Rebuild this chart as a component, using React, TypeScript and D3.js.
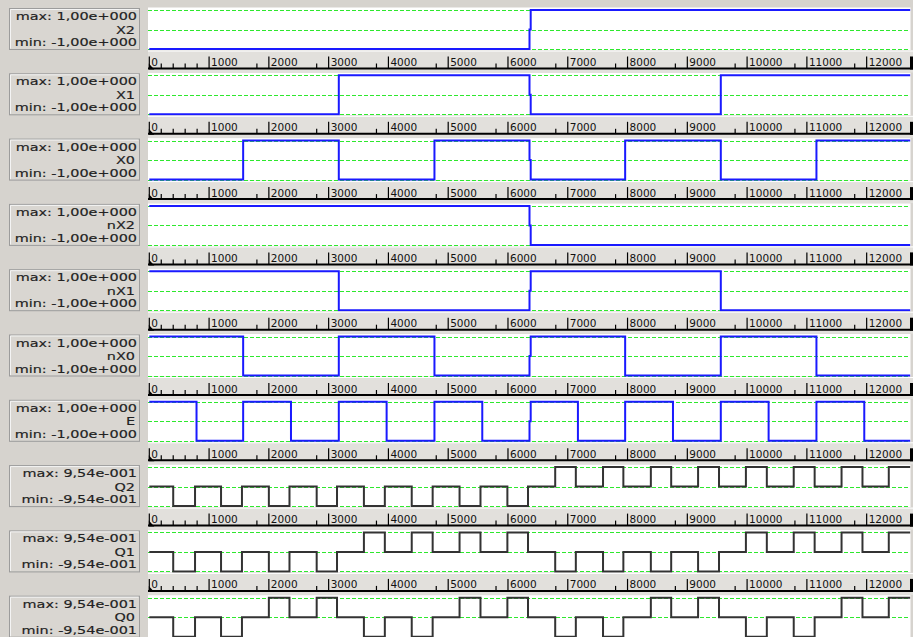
import React from "react";
import * as d3 from "d3";

const W = 913;
const H = 637;
const T_END = 12730;

const SIGNAL_NAMES = ["X2", "X1", "X0", "nX2", "nX1", "nX0", "E", "Q2", "Q1", "Q0"];
const MAX_LABELS = ["max: 1,00e+000", "max: 1,00e+000", "max: 1,00e+000", "max: 1,00e+000", "max: 1,00e+000", "max: 1,00e+000", "max: 1,00e+000", "max: 9,54e-001", "max: 9,54e-001", "max: 9,54e-001"];
const MIN_LABELS = ["min: -1,00e+000", "min: -1,00e+000", "min: -1,00e+000", "min: -1,00e+000", "min: -1,00e+000", "min: -1,00e+000", "min: -1,00e+000", "min: -9,54e-001", "min: -9,54e-001", "min: -9,54e-001"];
const RANGE_MAX = [1, 1, 1, 1, 1, 1, 1, 0.954, 0.954, 0.954];

const AXIS_TICKS = [0, 1000, 2000, 3000, 4000, 5000, 6000, 7000, 8000, 9000, 10000, 11000, 12000];
const MINOR_TICKS = [200, 400, 600, 800, 1800, 2800, 3800, 4800, 5800, 6800, 7800, 8800, 9800, 10800, 11800, 12800];

// step signals: [time, value] (value holds until next time)
const X2_STEPS: [number, number][] = [[0, -1], [6360, 0], [6380, 1]];
const X1_STEPS: [number, number][] = [[0, -1], [3170, 1], [6360, 0], [6380, -1], [9560, 1]];
const X0_STEPS: [number, number][] = [[0, -1], [1570, 1], [3170, -1], [4770, 1], [6360, 0], [6380, -1], [7960, 1], [9560, -1], [11160, 1]];
const NX2_STEPS: [number, number][] = [[0, 1], [6360, 0], [6380, -1]];
const NX1_STEPS: [number, number][] = [[0, 1], [3170, -1], [6360, 0], [6380, 1], [9560, -1]];
const NX0_STEPS: [number, number][] = [[0, 1], [1570, -1], [3170, 1], [4770, -1], [6360, 0], [6380, 1], [7960, -1], [9560, 1], [11160, -1]];
const E_STEPS: [number, number][] = [[0, 1], [790, -1], [1570, 1], [2370, -1], [3170, 1], [3970, -1], [4770, 1], [5570, -1], [6360, 0], [6380, 1], [7170, -1], [7960, 1], [8760, -1], [9560, 1], [10360, -1], [11160, 1], [11960, -1]];

// Q outputs: pulse windows and their levels
const Q_WIN_START = [400, 1200, 2000, 2800, 3590, 4390, 5190, 5990, 6790, 7590, 8390, 9180, 9980, 10780, 11580, 12370];
const Q_WIN_END = [765, 1550, 2345, 3140, 3940, 4740, 5540, 6335, 7135, 7930, 8730, 9530, 10330, 11130, 11930, 12730];
const Q2_LEVELS = [-0.954, -0.954, -0.954, -0.954, -0.954, -0.954, -0.954, -0.954, 0.954, 0.954, 0.954, 0.954, 0.954, 0.954, 0.954, 0.954];
const Q1_LEVELS = [-0.954, -0.954, -0.954, -0.954, 0.954, 0.954, 0.954, 0.954, -0.954, -0.954, -0.954, -0.954, 0.954, 0.954, 0.954, 0.954];
const Q0_LEVELS = [-0.954, -0.954, 0.954, 0.954, -0.954, -0.954, 0.954, 0.954, -0.954, -0.954, 0.954, 0.954, -0.954, -0.954, 0.954, 0.954];

function qSteps(levels: number[]): [number, number][] {
  const pts: [number, number][] = [[0, 0]];
  levels.forEach((lv, i) => {
    pts.push([Q_WIN_START[i], lv]);
    if (Q_WIN_END[i] < T_END) pts.push([Q_WIN_END[i], 0]);
  });
  return pts;
}

const SIGNALS: [number, number][][] = [
  X2_STEPS, X1_STEPS, X0_STEPS, NX2_STEPS, NX1_STEPS, NX0_STEPS, E_STEPS,
  qSteps(Q2_LEVELS), qSteps(Q1_LEVELS), qSteps(Q0_LEVELS),
];

const BG = "#d6d3ce";
const STRIP = "#e2e0dc";
const BLUE = "#1a1aff";
const DARK = "#333333";
const GREEN = "#2ee82e";

export default function App() {
  const x = d3.scaleLinear().domain([0, T_END]).range([149.3, 910.3]);
  const TOP0 = 10;
  const PITCH = 65.3;
  const PH = 39;

  return (
    <svg
      width={W}
      height={H}
      style={{ position: "fixed", left: 0, top: 0, display: "block" }}
      fontFamily="DejaVu Sans, Verdana, sans-serif"
    >
      <defs>
        <clipPath id="plotclip">
          <rect x={148} y={0} width={762.5} height={H} />
        </clipPath>
        <clipPath id="stripclip">
          <rect x={148} y={0} width={762} height={H} />
        </clipPath>
      </defs>
      <rect x={0} y={0} width={W} height={H} fill={BG} />
      {SIGNALS.map((steps, i) => {
        const top = TOP0 + i * PITCH;
        const rmax = RANGE_MAX[i];
        const y = d3.scaleLinear().domain([-rmax, rmax]).range([top + PH, top]);
        const pts = [...steps, [T_END, steps[steps.length - 1][1]] as [number, number]];
        const line = d3
          .line<[number, number]>()
          .x((d) => x(d[0]))
          .y((d) => y(d[1]))
          .curve(d3.curveStepAfter);
        const isQ = i >= 7;
        const isLast = i === SIGNALS.length - 1;
        const stripTop = top + 40.5;
        const base = top + 58.5;
        return (
          <g key={i}>
            {/* label box */}
            <rect x={9.5} y={top - 1.5} width={130} height={41} fill="#d9d6d1" stroke="#9c9c9c" strokeWidth={1} />
            <line x1={10.5} y1={top - 0.5} x2={138.5} y2={top - 0.5} stroke="#f4f4f4" strokeWidth={1} />
            <line x1={10.5} y1={top - 0.5} x2={10.5} y2={top + 38.5} stroke="#f4f4f4" strokeWidth={1} />
            <g transform={`translate(137,${top + 10}) scale(1.4,1)`}>
              <text textAnchor="end" fontSize={10.3} fill="#222" stroke="#222" strokeWidth={0.15}>{MAX_LABELS[i]}</text>
            </g>
            <g transform={`translate(135,${top + 23.5}) scale(1.4,1)`}>
              <text textAnchor="end" fontSize={10.3} fill="#222" stroke="#222" strokeWidth={0.15}>{SIGNAL_NAMES[i]}</text>
            </g>
            <g transform={`translate(137,${top + 36}) scale(1.4,1)`}>
              <text textAnchor="end" fontSize={10.3} fill="#222" stroke="#222" strokeWidth={0.15}>{MIN_LABELS[i]}</text>
            </g>
            {/* plot */}
            <rect x={148} y={top - 2.5} width={762.5} height={42.5} fill="#ffffff" />
            {[rmax, 0, -rmax].map((v, k) => (
              <line
                key={k}
                x1={148}
                x2={910}
                y1={Math.round(y(v)) + 0.5}
                y2={Math.round(y(v)) + 0.5}
                stroke={GREEN}
                strokeWidth={1}
                strokeDasharray="4,2"
              />
            ))}
            <path
              d={line(pts) || ""}
              fill="none"
              stroke={isQ ? DARK : BLUE}
              strokeWidth={2}
              clipPath="url(#plotclip)"
            />
            {/* axis strip (not below the last panel, which ends at the image edge) */}
            {!isLast && (
              <g>
                <rect x={148} y={stripTop} width={765} height={22} fill={STRIP} />
                <line x1={148} x2={913} y1={stripTop + 0.5} y2={stripTop + 0.5} stroke="#ffffff" strokeWidth={1} />
                <g clipPath="url(#stripclip)">
                  {AXIS_TICKS.map((t) => (
                    <g key={t}>
                      <text x={x(t) + 2} y={base - 2.5} fontSize={10.5} fill="#111">{t}</text>
                      <line x1={x(t)} x2={x(t)} y1={base - 12} y2={base} stroke="#000" strokeWidth={1.2} />
                    </g>
                  ))}
                  {MINOR_TICKS.map((t) => (
                    <line key={t} x1={x(t)} x2={x(t)} y1={base - 5} y2={base} stroke="#000" strokeWidth={1.2} />
                  ))}
                </g>
                <line x1={148} x2={913} y1={base} y2={base} stroke="#000" strokeWidth={2} />
                <path d={`M${x(0) - 0.5},${base - 5} L${x(0) - 0.5},${base + 1} L${x(0) + 5},${base + 1} Z`} fill="#000" />
                <rect x={910} y={base - 12} width={3} height={13} fill="#000" />
              </g>
            )}
          </g>
        );
      })}
    </svg>
  );
}
